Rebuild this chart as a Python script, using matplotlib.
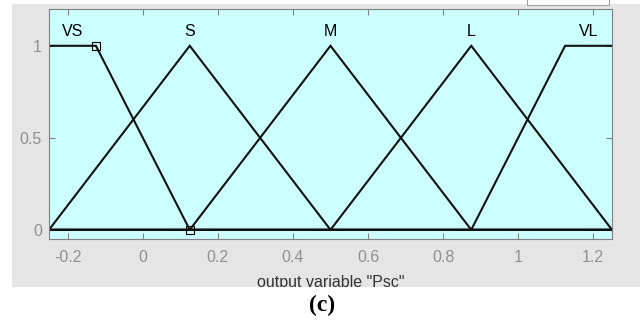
import numpy as np
import matplotlib
matplotlib.use("Agg")
import matplotlib.pyplot as plt
from matplotlib.patches import Rectangle

plt.rcParams['font.family'] = ['Liberation Sans', 'DejaVu Sans']

# output variable range and membership functions
x_range = [-0.25, 1.25]
mf_names = ['VS', 'S', 'M', 'L', 'VL']
mf_points = [
    [-0.625, -0.25, -0.125, 0.125],   # trapmf
    [-0.25, 0.125, 0.5],              # trimf
    [0.125, 0.5, 0.875],
    [0.5, 0.875, 1.25],
    [0.875, 1.125, 1.25, 1.625],      # trapmf
]
selected_points = [[-0.125, 0.125], [1, 0]]

x_ticks = [-0.2, 0, 0.2, 0.4, 0.6, 0.8, 1, 1.2]
x_ticklabels = ['-0.2', '0', '0.2', '0.4', '0.6', '0.8', '1', '1.2']
y_ticks = [0, 0.5, 1]
y_ticklabels = ['0', '0.5', '1']

W, H = 640, 323
fig = plt.figure(figsize=(W / 100, H / 100), dpi=100)
fig.patch.set_facecolor('white')

# grey panel behind the axes
panel = Rectangle((12 / W, 36 / H), 628 / W, 283 / H, transform=fig.transFigure,
                  facecolor='#e5e5e5', edgecolor='none', zorder=-2)
fig.patches.append(panel)
# plot points box at the top
box = Rectangle((527 / W, 318 / H), 82 / W, 6 / H, transform=fig.transFigure,
                facecolor='white', edgecolor='#a0a0a0', linewidth=0.8, zorder=-1)
fig.patches.append(box)

ax = fig.add_axes([49 / W, 84 / H, 563 / W, 230 / H])
ax.set_facecolor('#ccffff')

x = np.linspace(x_range[0], x_range[1], 181)
for name, pts in zip(mf_names, mf_points):
    if len(pts) == 3:
        fp = [0, 1, 0]
        top = [pts[1], pts[1]]
    else:
        fp = [0, 1, 1, 0]
        top = [max(pts[1], x_range[0]), min(pts[2], x_range[1])]
    y = np.interp(x, pts, fp)
    ax.plot(x, y, color='#111111', linewidth=1.5, solid_joinstyle='miter')
    ax.text(np.mean(top), 1.055, name, ha='center', va='baseline',
            fontsize=11.5, color='black')

ax.plot(selected_points[0], selected_points[1], linestyle='none', marker='s',
        markersize=5.5, markerfacecolor='none', markeredgecolor='black',
        markeredgewidth=0.8)

ax.set_xlim(x_range)
ax.set_ylim(-0.05, 1.2)
ax.set_xticks(x_ticks)
ax.set_xticklabels(x_ticklabels)
ax.set_yticks(y_ticks)
ax.set_yticklabels(y_ticklabels)
ax.tick_params(direction='in', top=True, right=True, length=4, width=0.8,
               color='#808080', labelcolor='#909090', labelsize=11.5)
ax.tick_params(axis='x', pad=8)
ax.tick_params(axis='y', pad=5)
for sp in ax.spines.values():
    sp.set_color('#808080')
    sp.set_linewidth(0.8)

xl = ax.set_xlabel('output variable "Psc"', fontsize=11.5, color='#333333')
ax.xaxis.set_label_coords(0.5, -0.155)
xl.set_verticalalignment('top')
xl.set_clip_path(panel)

fig.text(322 / W, 18 / H, '(c)', ha='center', va='center', fontsize=17,
         fontweight='bold', family='Liberation Serif')

fig.savefig('out.png', dpi=100)
